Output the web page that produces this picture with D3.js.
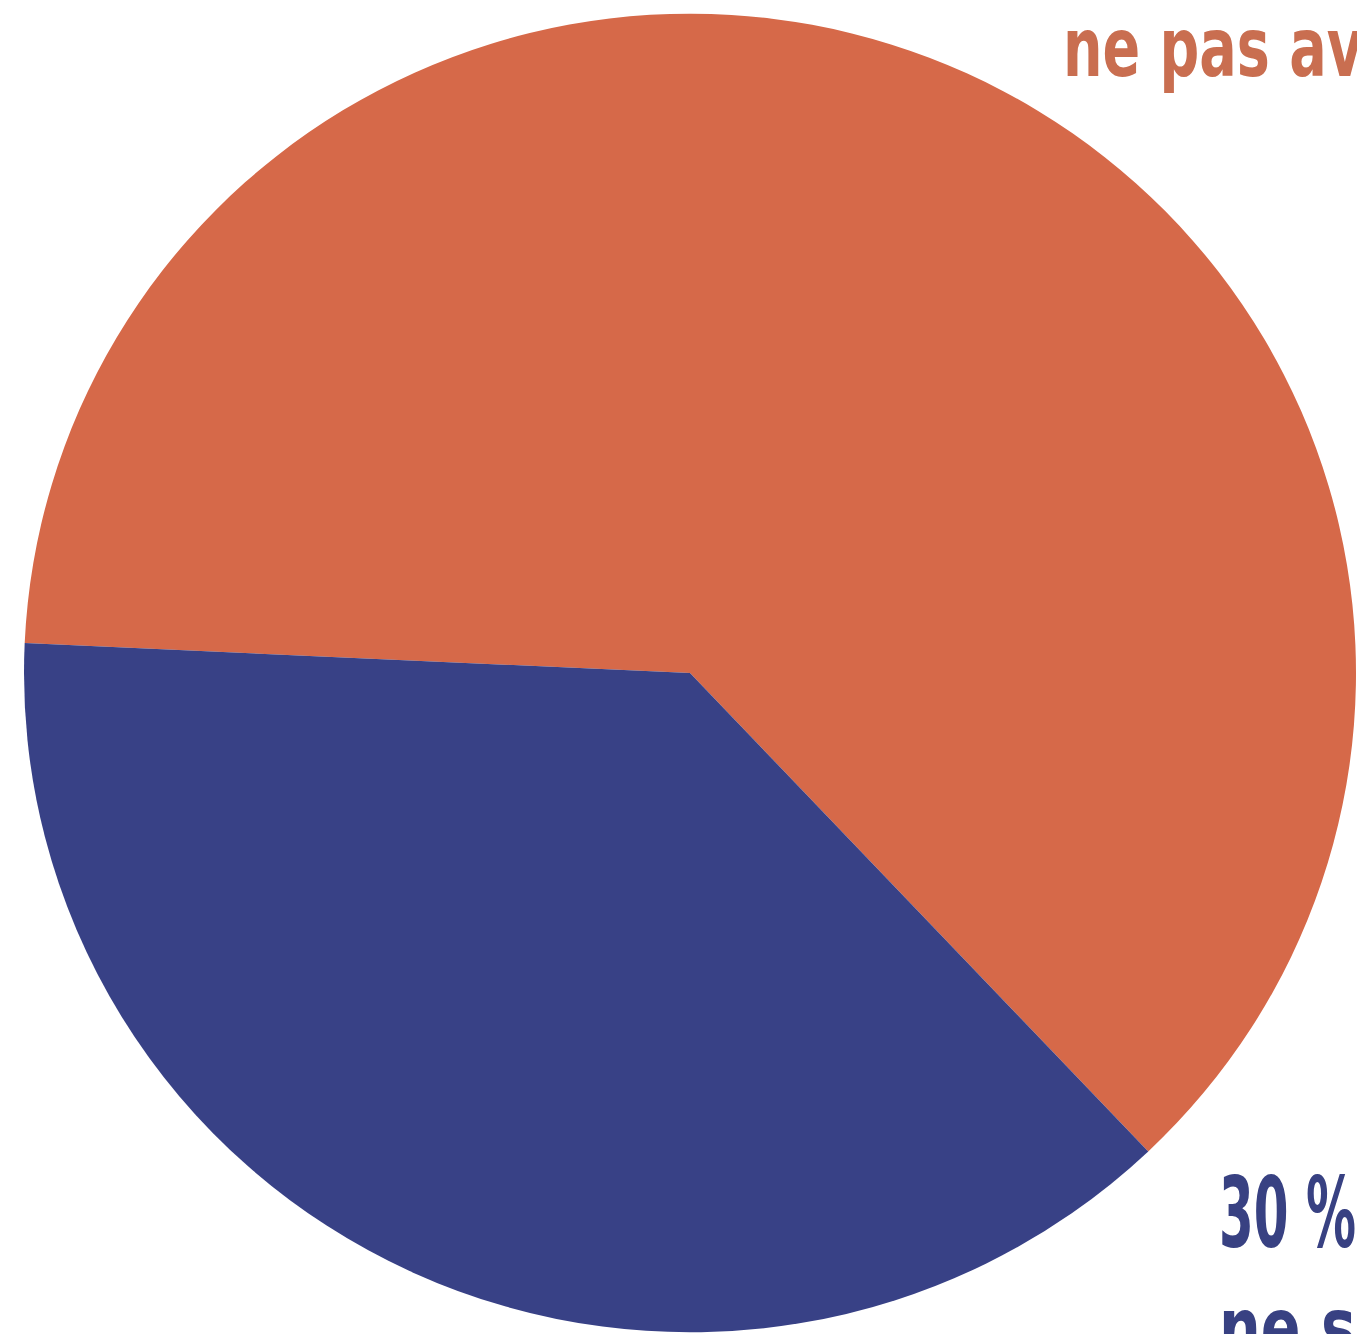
<!DOCTYPE html>
<html>
<head>
<meta charset="utf-8">
<script src="https://cdn.jsdelivr.net/npm/d3@7"></script>
<style>
  html, body { margin: 0; padding: 0; background: #fff; overflow: hidden; }
</style>
</head>
<body>
<div id="container"></div>
<script>
/* CONSTANTS AND GLOBALS */
const width = 1357,
  height = 1334;

// DATA (slice shares, labels as printed)
const categories = ['ne pas avoir', 'ne savoir'];
const shares = [62.2, 37.8];
const labelPct = ['', '30 %'];
const colors = ['#D66949', '#384186'];
const textColors = ['#C96E50', '#384182'];

const cx = 690, cy = 673, radius = 666;

// CREATE SVG ELEMENT
const svg = d3.select('#container')
  .append('svg')
  .attr('width', width)
  .attr('height', height)
  .style('display', 'block');

// PIE
const pie = d3.pie()
  .sort(null)
  .value(d => d)
  .startAngle(-87.4 * Math.PI / 180)
  .endAngle((360 - 87.4) * Math.PI / 180);

const arc = d3.arc()
  .innerRadius(0)
  .outerRadius(radius);

svg.append('g')
  .attr('transform', `translate(${cx}, ${cy}) scale(1, 0.99)`)
  .selectAll('path')
  .data(pie(shares))
  .join('path')
  .attr('d', arc)
  .attr('fill', (d, i) => colors[i]);

// LABELS (condensed bold, clipped by the right edge as in the original)
const font = '"DejaVu Sans Condensed", "DejaVu Sans", sans-serif';

function label(txt, x, y, size, col, targetW, fitTxt) {
  const t = svg.append('text')
    .attr('font-family', font)
    .attr('font-weight', 'bold')
    .attr('font-size', size)
    .attr('fill', col)
    .text(fitTxt);
  const w = t.node().getComputedTextLength();
  const k = targetW / w;
  t.text(txt)
    .attr('transform', `translate(${x}, ${y}) scale(${k}, 1)`);
}

label(categories[0], 1063, 76, 82, textColors[0], 300, 'ne pas av');
label(labelPct[1], 1219, 1247, 98, textColors[1], 137, labelPct[1]);
label(categories[1], 1219, 1356, 82, textColors[1], 137, 'ne s');
</script>
</body>
</html>
